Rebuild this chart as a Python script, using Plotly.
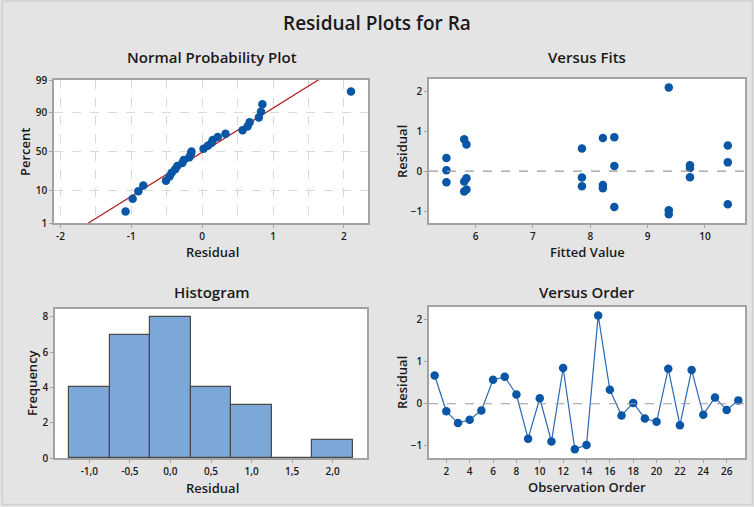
import plotly.graph_objects as go
from statistics import NormalDist, mean, stdev

# ---- data ----
observation_order = list(range(1, 28))
residuals = [0.67, -0.18, -0.46, -0.38, -0.16, 0.57, 0.64, 0.22, -0.83,
             0.13, -0.90, 0.85, -1.08, -0.98, 2.10, 0.33, -0.28, 0.02,
             -0.35, -0.43, 0.83, -0.51, 0.80, -0.26, 0.15, -0.15, 0.08]
fitted_values = [5.84, 5.84, 5.84, 7.855, 7.855, 7.855, 10.40, 10.40, 10.40,
                 8.42, 8.42, 8.42, 9.37, 9.37, 9.37, 5.49, 5.49, 5.49,
                 8.22, 8.22, 8.22, 5.80, 5.80, 5.80, 9.74, 9.74, 9.74]
percent_ticks = [1, 10, 50, 90, 99]
hist_tick_vals = [-1.0, -0.5, 0.0, 0.5, 1.0, 1.5, 2.0]
hist_tick_text = ["-1,0", "-0,5", "0,0", "0,5", "1,0", "1,5", "2,0"]

W, H = 754, 507
nd = NormalDist()
n = len(residuals)
sorted_res = sorted(residuals)
z_pos = [nd.inv_cdf((i + 1 - 0.3) / (n + 0.4)) for i in range(n)]
mu, sd = mean(residuals), stdev(residuals)
line_z = [-3.0, 3.0]
line_x = [mu + sd * z for z in line_z]

BLUE = "#0a56a6"
FRAME = "#a3a3a3"
GRID = "#d9d9d9"
TXT = "#1a1a1a"
FONT = "Open Sans"

def xd(a, b):
    return [a / W, b / W]

def yd(top, bottom):
    return [1 - bottom / H, 1 - top / H]

fig = go.Figure()

# Normal probability plot
fig.add_trace(go.Scatter(x=line_x, y=line_z, mode="lines",
                         line=dict(color="#b01c1c", width=1.2),
                         xaxis="x", yaxis="y", showlegend=False, hoverinfo="skip"))
fig.add_trace(go.Scatter(x=sorted_res, y=z_pos, mode="markers",
                         marker=dict(color=BLUE, size=8.5),
                         xaxis="x", yaxis="y", showlegend=False))
# Versus fits
fig.add_trace(go.Scatter(x=fitted_values, y=residuals, mode="markers",
                         marker=dict(color=BLUE, size=8.5),
                         xaxis="x2", yaxis="y2", showlegend=False))
# Histogram
fig.add_trace(go.Histogram(x=residuals,
                           xbins=dict(start=-1.25, end=2.25, size=0.5),
                           marker=dict(color="#7ba7d9", line=dict(color="#4a4a4a", width=1.2)),
                           xaxis="x3", yaxis="y3", showlegend=False))
# Versus order
fig.add_trace(go.Scatter(x=observation_order, y=residuals, mode="lines+markers",
                         marker=dict(color=BLUE, size=8.5),
                         line=dict(color="#2a68b5", width=1.2),
                         xaxis="x4", yaxis="y4", showlegend=False))

tickfont = dict(family=FONT, size=10, color=TXT, weight=600)
common = dict(showline=True, mirror=True, linecolor=FRAME, linewidth=1.5,
              ticks="outside", ticklen=3, tickcolor=FRAME, tickfont=tickfont,
              zeroline=False, fixedrange=True, automargin=False)

zmin, zmax = nd.inv_cdf(0.01), nd.inv_cdf(0.99)

fig.update_layout(
    template="none",
    width=W, height=H, margin=dict(l=0, r=0, t=0, b=0, pad=0, autoexpand=False),
    paper_bgcolor="#e4e4e4", plot_bgcolor="white",
    bargap=0,
    xaxis=dict(domain=xd(54, 368), anchor="y", range=[-2.09, 2.34],
               tickvals=[-2, -1, 0, 1, 2], ticktext=["-2", "-1", "0", "1", "2"],
               showgrid=True, gridcolor=GRID, griddash="dash", gridwidth=1,
               minor=dict(tick0=-2, dtick=0.5, showgrid=True, gridcolor=GRID,
                          griddash="dash", ticks=""),
               **common),
    yaxis=dict(domain=yd(80, 223), anchor="x", range=[zmin, zmax],
               tickvals=[nd.inv_cdf(p / 100) for p in percent_ticks],
               ticktext=[str(p) for p in percent_ticks],
               showgrid=True, gridcolor=GRID, griddash="dash", **common),
    xaxis2=dict(domain=xd(429, 745), anchor="y2", range=[5.186, 10.70],
                tickvals=[6, 7, 8, 9, 10], showgrid=False, **common),
    yaxis2=dict(domain=yd(79, 223), anchor="x2", range=[-1.30, 2.31],
                tickvals=[-1, 0, 1, 2], showgrid=False, **common),
    xaxis3=dict(domain=xd(55, 367), anchor="y3", range=[-1.423, 2.423],
                tickvals=hist_tick_vals, ticktext=hist_tick_text,
                showgrid=False, **common),
    yaxis3=dict(domain=yd(309, 458), anchor="x3", range=[0, 8.45],
                tickvals=[0, 2, 4, 6, 8], showgrid=False, **common),
    xaxis4=dict(domain=xd(429, 745), anchor="y4", range=[0.516, 27.57],
                tickvals=list(range(2, 27, 2)), showgrid=False, **common),
    yaxis4=dict(domain=yd(307, 458), anchor="x4", range=[-1.29, 2.30],
                tickvals=[-1, 0, 1, 2], showgrid=False, **common),
)

# zero reference lines
for ax in ["2", "4"]:
    fig.add_shape(type="line", xref=f"x{ax} domain", yref=f"y{ax}",
                  x0=0, x1=1, y0=0, y1=0,
                  line=dict(color="#9a9a9a", width=1.2, dash="dash"))

# empty histogram bin outline (count 0 between 1.25 and 1.75)
fig.add_shape(type="line", xref="x3", yref="y3", x0=1.25, x1=1.75, y0=0.03, y1=0.03,
              line=dict(color="#4a4a4a", width=1.2))

# outer border
fig.add_shape(type="rect", xref="paper", yref="paper", x0=0.003, x1=0.998,
              y0=0.005, y1=0.998, line=dict(color="#cfcfcf", width=1.5),
              fillcolor="rgba(0,0,0,0)", layer="below")

def ann(text, x, y, size, angle=0, weight=600):
    fig.add_annotation(text=text, x=x / W, y=1 - y / H, xref="paper", yref="paper",
                       showarrow=False, textangle=angle,
                       xanchor="center", yanchor="middle",
                       font=dict(family=FONT, size=size, color=TXT, weight=weight))

ann("Residual Plots for Ra", 377, 23, 19)
ann("Normal Probability Plot", 212, 57, 15)
ann("Versus Fits", 587, 57, 15)
ann("Histogram", 212, 292, 15)
ann("Versus Order", 587, 292, 15)
ann("Residual", 212, 252, 13)
ann("Fitted Value", 587, 252, 13)
ann("Residual", 212, 488, 13)
ann("Observation Order", 587, 487, 13)
ann("Percent", 25, 152, 13, angle=-90)
ann("Residual", 402, 152, 13, angle=-90)
ann("Frequency", 32, 383, 13, angle=-90)
ann("Residual", 402, 383, 13, angle=-90)

fig.write_html("out.html",
               config={"displayModeBar": False},
               post_script="document.body.style.margin='0';"
                           "document.body.style.overflow='hidden';")
